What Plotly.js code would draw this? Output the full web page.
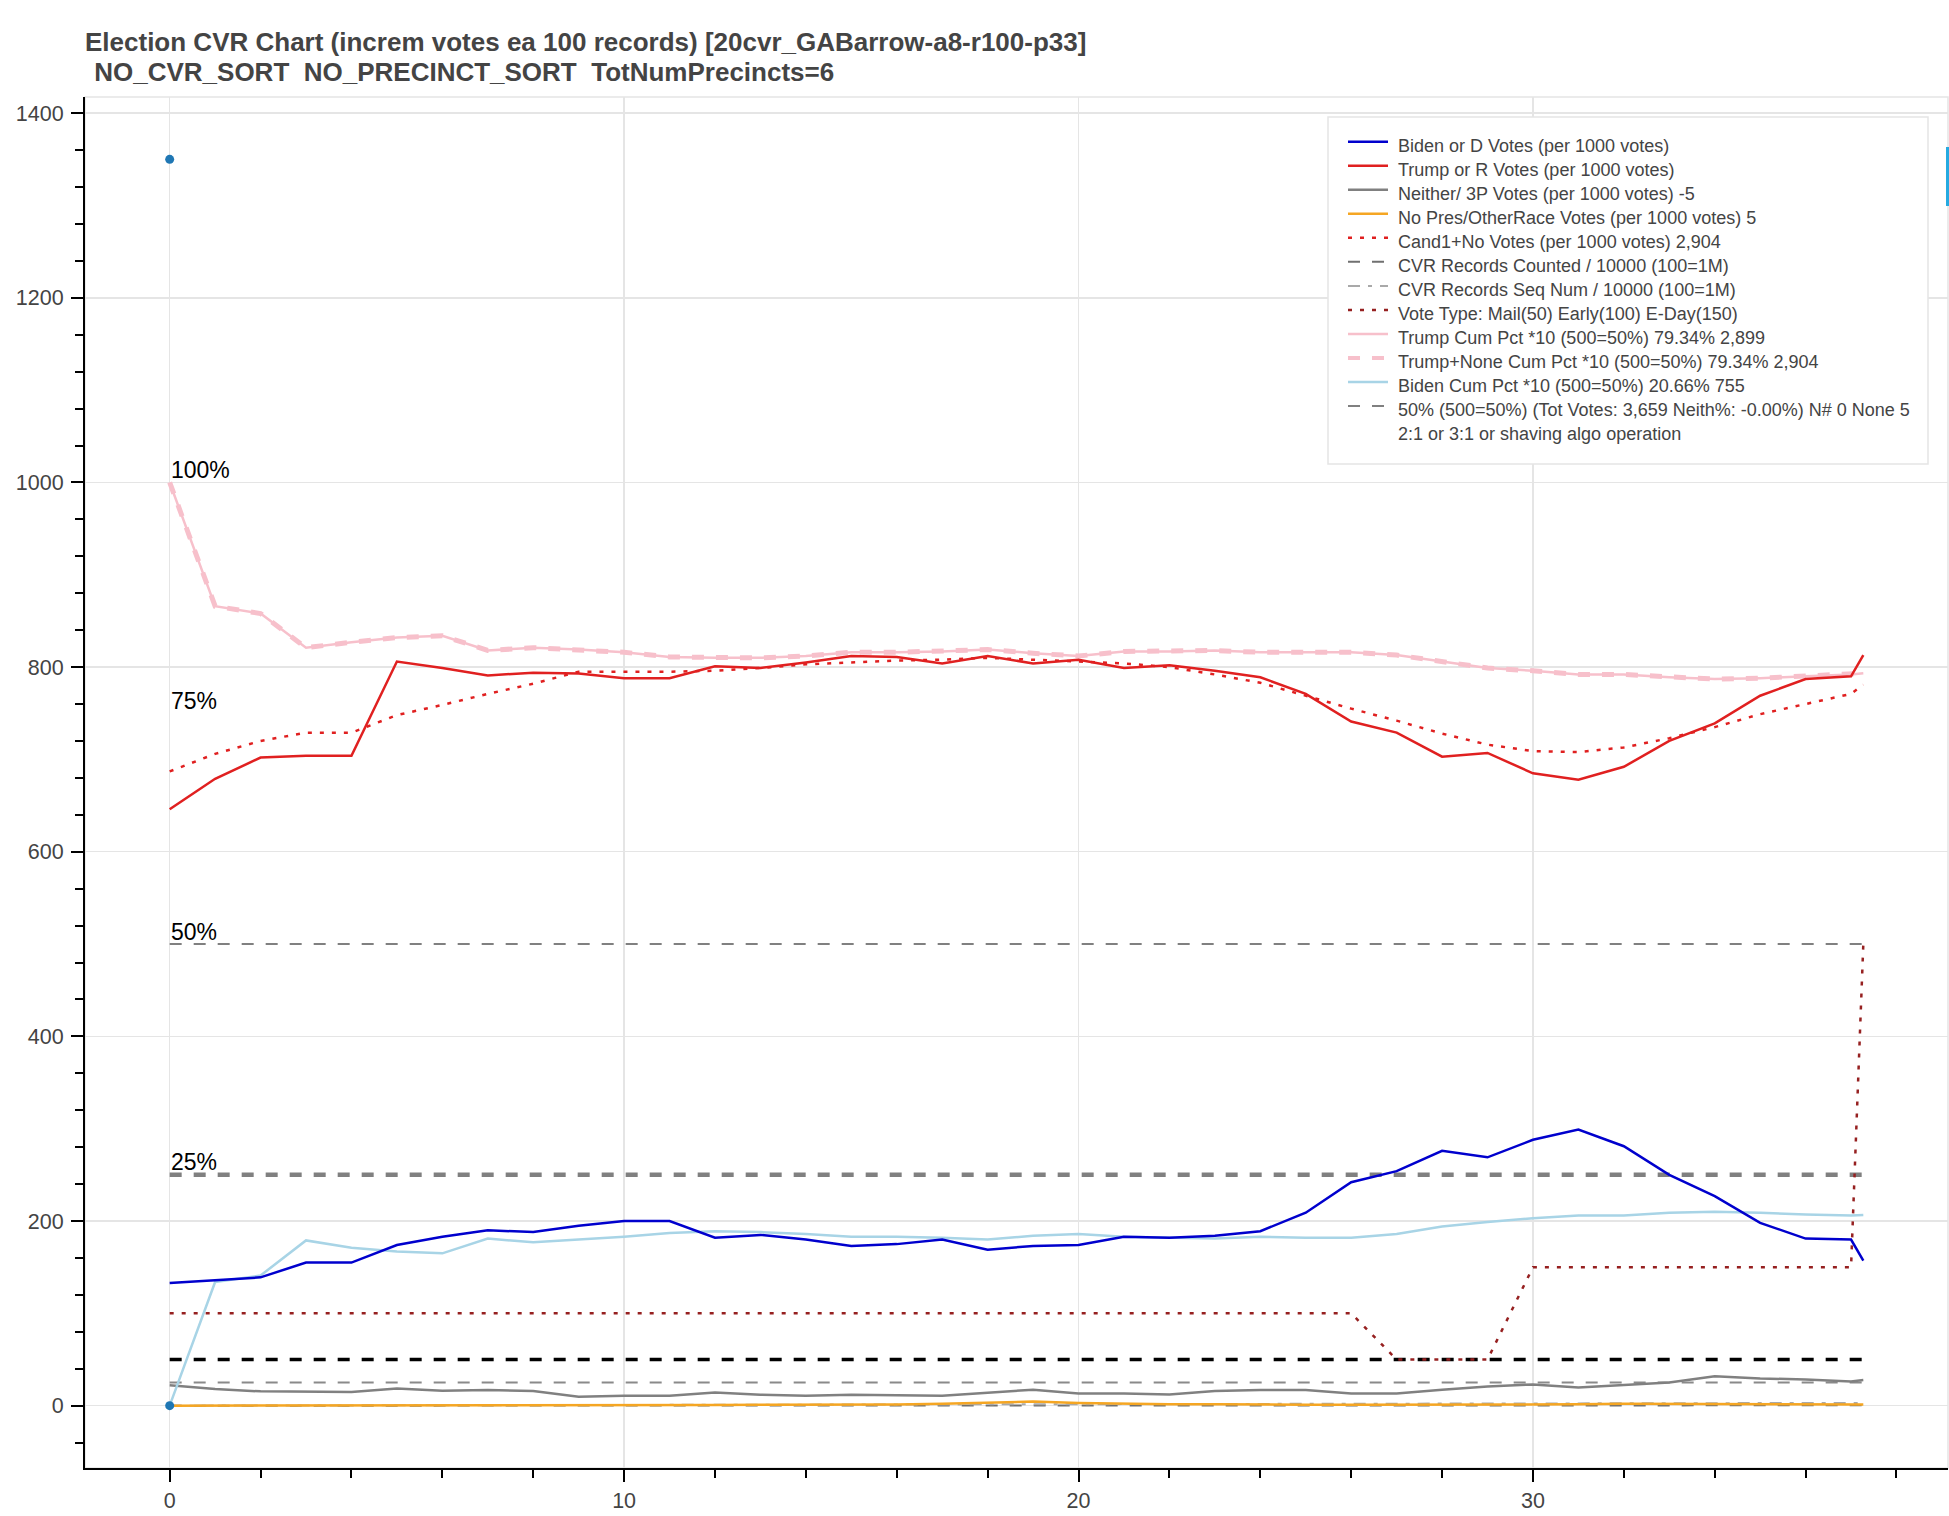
<!DOCTYPE html>
<html>
<head>
<meta charset="utf-8">
<script src="https://cdn.plot.ly/plotly-3.0.1.min.js"></script>
<style>
html,body{margin:0;padding:0;background:#fff;}
#chart{width:1949px;height:1516px;}
</style>
</head>
<body>
<div id="chart"></div>
<script>
// ---- data ----
const xIdx = [0,1,2,3,4,5,6,7,8,9,10,11,12,13,14,15,16,17,18,19,20,21,22,23,24,25,26,27,28,29,30,31,32,33,34,35,36,37,37.27];

const bidenVotes = [133,136,139,155,155,174,183,190,188,195, 200,200,182,185,180,173,175,180,169,173, 174,183,182,184,189,209,242,254,276,269, 288,299,281,250,227,198,181,180, 157];
const trumpVotes = [646,679,702,704,704,806,799,791,794,793, 788,788,801,799,805,812,811,804,812,804, 808,799,802,796,789,771,741,729,703,707, 685,678,692,720,739,769,787,790, 813];
const neitherVotes = [22,18,15.5,14.7,14.7,18.7,16.2,16.9,15.8,9.7, 10.8,10.8,14.4,11.9,10.8,11.9,11.2,10.8,14,17.3, 13.3,13.3,12.2,15.8,16.9,16.9,13.3,13.3,17.3,20.9, 23,19.8,22.3,25.2,32,29.5,28.4,26.3, 27.7];
const noPresVotes = [0,0,0,0,0,0,0,0,0,0, 0.5,0.5,0.8,1,1,1,1.2,2,3.5,4.5, 3,2,1.5,1.5,1,1,1,1,1.5,1.5, 1.5,1.5,2,2,2,1.5,1.5,1.5, 1.4];
const cand1NoVotes = [687,706,720,729,729,748,759,771,782,795, 795,795,796,799,803,805,807,808,810,808, 806,804,800,792,783,769,755,742,728,716, 709,708,713,723,735,749,760,771, 781];
const recordsCounted = [0,0.01,0.02,0.03,0.04,0.05,0.06,0.07,0.08,0.09, 0.1,0.11,0.12,0.13,0.14,0.15,0.16,0.17,0.18,0.19, 0.2,0.21,0.22,0.23,0.24,0.25,0.26,0.27,0.28,0.29, 0.3,0.31,0.32,0.33,0.34,0.35,0.36,0.37, 0.37];
const recordsSeqNum = [0,0.1,0.2,0.3,0.3,0.4,0.5,0.6,0.7,0.7, 0.8,0.9,1.0,1.1,1.1,1.2,1.3,1.4,1.5,1.5, 1.6,1.7,1.8,1.9,1.9,2.0,2.1,2.2,2.3,2.3, 2.4,2.5,2.6,2.7,2.7,2.8,2.9,3.0, 3.0];
const voteType = [100,100,100,100,100,100,100,100,100,100, 100,100,100,100,100,100,100,100,100,100, 100,100,100,100,100,100,100,50,50,50, 150,150,150,150,150,150,150,150, 500];
const trumpCumPct = [1000,866,858,821,827,832,834,818,821,819, 816,811,810,810,812,816,816,817,819,815, 812,817,817,818,816,816,816,813,806,799, 796,792,792,789,787,788,790,792, 793.4];
const trumpNoneCumPct = [1000,866,858,821,827,832,834,818,821,819, 816,811,810,810,812,816,816,817,819,815, 812,817,817,818,816,816,816,813,806,799, 796,792,792,789,787,788,790,792, 793.4];
const bidenCumPct = [0,134,141,179,171,167,165,181,177,180, 183,187,189,188,186,183,183,182,180,184, 186,183,182,181,183,182,182,186,194,199, 203,206,206,209,210,209,207,206, 206.6];

const levelHalf = 500;      // 50% line
const levelQuarter = 250;   // 25% line
const levelFifty = 50;
const levelTwentyFive = 25;

const dotX = [0, 0];
const dotY = [1350, 0];

const pctLabels = ['100%', '75%', '50%', '25%'];
const pctLevels = [1000, 750, 500, 250];

const legendNames = [
  'Biden or D Votes (per 1000 votes)',
  'Trump or R Votes (per 1000 votes)',
  'Neither/ 3P Votes (per 1000 votes) -5',
  'No Pres/OtherRace Votes (per 1000 votes) 5',
  'Cand1+No Votes (per 1000 votes) 2,904',
  'CVR Records Counted / 10000 (100=1M)',
  'CVR Records Seq Num / 10000 (100=1M)',
  'Vote Type: Mail(50) Early(100) E-Day(150)',
  'Trump Cum Pct *10 (500=50%) 79.34% 2,899',
  'Trump+None Cum Pct *10 (500=50%) 79.34% 2,904',
  'Biden Cum Pct *10 (500=50%) 20.66% 755',
  '50% (500=50%) (Tot Votes: 3,659 Neith%: -0.00%) N# 0 None 5',
  '2:1 or 3:1 or shaving algo operation'
];

const titleLine1 = 'Election CVR Chart (increm votes ea 100 records) [20cvr_GABarrow-a8-r100-p33]';
const titleLine2 = '\u00a0NO_CVR_SORT\u00a0\u00a0NO_PRECINCT_SORT\u00a0\u00a0TotNumPrecincts=6';

// ---- build ----
const FONT = 'Liberation Sans, Arial, Helvetica, sans-serif';
const flat = v => xIdx.map(() => v);

function ln(y, name, color, width, dash) {
  return {
    type: 'scatter', mode: 'lines', x: xIdx, y: y, name: name || '',
    showlegend: false,
    line: {color: color, width: width, dash: dash || 'solid'},
    hoverinfo: 'skip'
  };
}

const tQuarter = ln(flat(levelQuarter), '', '#808080', 4.5, '12px,12px');
const tFifty = ln(flat(levelFifty), '', '#000000', 3.5, '12px,12px');
const tTwentyFive = ln(flat(levelTwentyFive), '', '#8a8a8a', 2, '12px,12px');
const tHalf = ln(flat(levelHalf), legendNames[11], '#808080', 2, '12px,12px');
const tVoteType = ln(voteType, legendNames[7], '#962020', 2.5, '4px,8px');
const tCounted = ln(recordsCounted, legendNames[5], '#707070', 2, '12px,12px');
const tSeq = ln(recordsSeqNum, legendNames[6], '#a9a9a9', 2, '12px,8px,4px,8px');
const tNoPres = ln(noPresVotes, legendNames[3], '#f5a623', 2.5);
const tNeither = ln(neitherVotes, legendNames[2], '#808080', 2.5);
const tBidenCum = ln(bidenCumPct, legendNames[10], '#a8d4e6', 2.5);
const tTrumpNone = ln(trumpNoneCumPct, legendNames[9], '#f7c0cb', 5, '12px,12px');
const tTrumpCum = ln(trumpCumPct, legendNames[8], '#f7c0cb', 2.5);
const tCand1 = ln(cand1NoVotes, legendNames[4], '#e02020', 2.5, '4px,8px');
const tTrump = ln(trumpVotes, legendNames[1], '#e02020', 2.5);
const tBiden = ln(bidenVotes, legendNames[0], '#0000cd', 2.5);
const tDots = {
  type: 'scatter', mode: 'markers', x: dotX, y: dotY, showlegend: false,
  marker: {color: '#1f77b4', size: 9}, hoverinfo: 'skip'
};

const traces = [tQuarter, tFifty, tTwentyFive, tHalf, tVoteType, tCounted, tSeq,
  tNoPres, tNeither, tBidenCum, tTrumpNone, tTrumpCum, tCand1, tTrump, tBiden, tDots];

// legend rows, in the reference order (last row has no glyph)
const legendRows = [tBiden, tTrump, tNeither, tNoPres, tCand1, tCounted, tSeq,
  tVoteType, tTrumpCum, tTrumpNone, tBidenCum, tHalf, null];

const W = 1949, H = 1516;
const mL = 85, mR = 1, mT = 97, mB = 48;
const pw = W - mL - mR, ph = H - mT - mB;
const px2x = p => (p - mL) / pw;
const py2y = p => 1 - (p - mT) / ph;

const annotations = pctLabels.map((t, i) => ({
  x: 0, y: pctLevels[i], xref: 'x', yref: 'y', text: t, showarrow: false,
  xanchor: 'left', yanchor: 'bottom', xshift: -1, yshift: -2.5,
  font: {family: FONT, size: 23, color: '#000'}
}));

annotations.push({
  x: 0, xref: 'paper', xanchor: 'left',
  y: py2y(72), yref: 'paper', yanchor: 'middle',
  text: '<b>' + titleLine2 + '</b>', showarrow: false,
  font: {family: FONT, size: 26, color: '#444'}
});

const shapes = [
  {type: 'rect', xref: 'paper', yref: 'paper', x0: 0, x1: 1, y0: 0, y1: 1,
   line: {color: '#e5e5e5', width: 1.5}, fillcolor: 'rgba(0,0,0,0)', layer: 'below'},
  {type: 'rect', xref: 'paper', yref: 'paper',
   x0: px2x(1328), x1: px2x(1928), y0: py2y(464), y1: py2y(117),
   line: {color: '#e5e5e5', width: 1.5}, fillcolor: '#ffffff', layer: 'above'},
  {type: 'line', xref: 'paper', yref: 'paper',
   x0: px2x(1947.5), x1: px2x(1947.5), y0: py2y(206), y1: py2y(147),
   line: {color: '#26aae1', width: 3}, layer: 'above'}
];

const legTop = 145.7, legStep = 24.03;
legendRows.forEach((tr, k) => {
  const cy = legTop + legStep * k;
  if (tr) {
    shapes.push({
      type: 'line', xref: 'paper', yref: 'paper',
      x0: px2x(1348), x1: px2x(1388), y0: py2y(cy - 4), y1: py2y(cy - 4),
      line: {color: tr.line.color, width: Math.min(tr.line.width, 4), dash: tr.line.dash}, layer: 'above'
    });
  }
  annotations.push({
    x: px2x(1396), xref: 'paper', xanchor: 'left',
    y: py2y(cy), yref: 'paper', yanchor: 'middle',
    text: legendNames[k], showarrow: false,
    font: {family: FONT, size: 18, color: '#444'}
  });
});

const xMin = xIdx[0], xMax = xIdx[xIdx.length - 1];
const xPad = (xMax - xMin) * 0.05;
const yMin = Math.min(...dotY), yMax = Math.max(...dotY);
const yPad = (yMax - yMin) * 0.05;

const axisCommon = {
  showline: true, linecolor: '#000', linewidth: 2,
  ticks: 'outside', ticklen: 12, tickwidth: 2, tickcolor: '#000',
  showgrid: true, gridcolor: '#e5e5e5', gridwidth: 1.5,
  zeroline: false,
  tickfont: {family: FONT, size: 21.5, color: '#444'},
  fixedrange: true
};

const layout = {
  width: W, height: H,
  margin: {l: mL, r: mR, t: mT, b: mB, pad: 0},
  paper_bgcolor: '#fff', plot_bgcolor: '#fff',
  showlegend: false,
  title: {
    text: '<b>' + titleLine1 + '</b>',
    x: 0, xref: 'paper', xanchor: 'left',
    y: 1 - 32.8 / H, yref: 'container', yanchor: 'top',
    font: {family: FONT, size: 26, color: '#444'}
  },
  xaxis: Object.assign({}, axisCommon, {
    range: [xMin - xPad, xMax + xPad], tick0: 0, dtick: 10,
    ticklabelstandoff: 0,
    minor: {ticks: 'outside', ticklen: 8, tickwidth: 2, tickcolor: '#000', dtick: 2, showgrid: false}
  }),
  yaxis: Object.assign({}, axisCommon, {
    range: [yMin - yPad, yMax + yPad], tick0: 0, dtick: 200,
    ticklabelstandoff: 3,
    minor: {ticks: 'outside', ticklen: 8, tickwidth: 2, tickcolor: '#000', dtick: 40, showgrid: false}
  }),
  shapes: shapes,
  annotations: annotations,
  hovermode: false
};

Plotly.newPlot('chart', traces, layout, {displayModeBar: false, staticPlot: true});
</script>
</body>
</html>
